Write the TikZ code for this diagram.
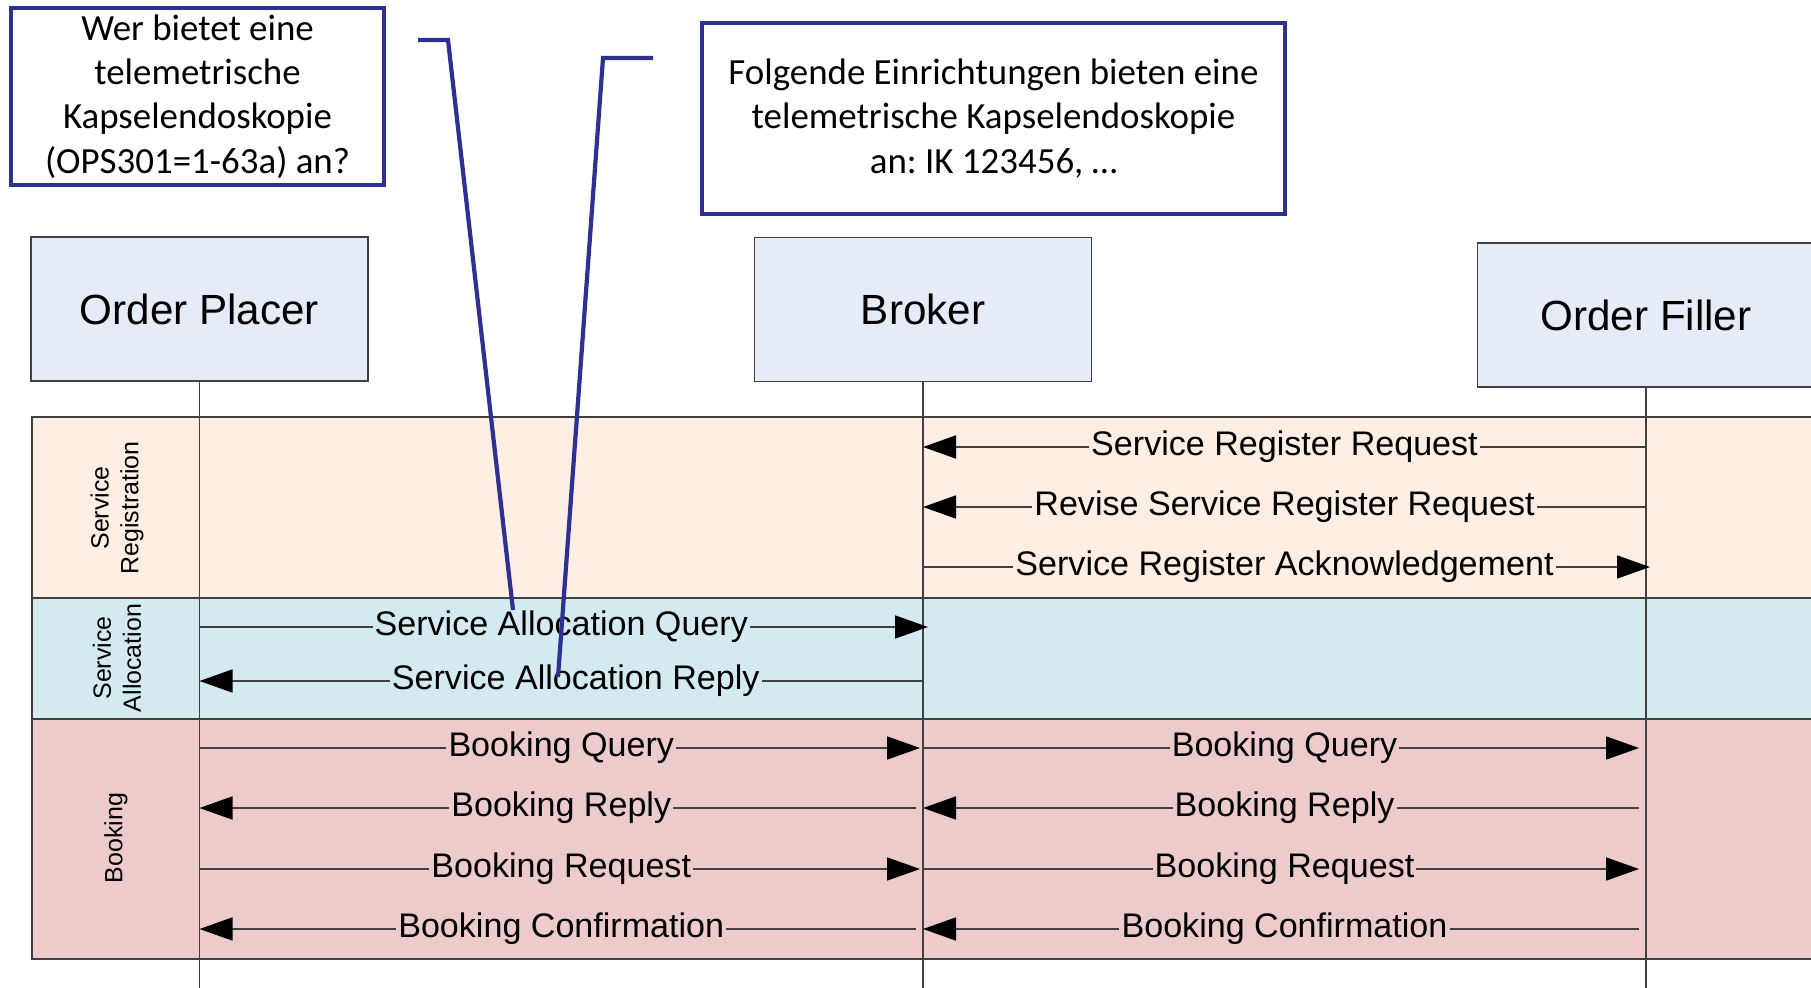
\documentclass[tikz,border=0pt]{standalone}
\usepackage{fontspec}
\setmainfont{Liberation Sans}
\newfontfamily\notefont{Carlito}
\usepackage{xcolor}
\usepackage{tikz}
\usetikzlibrary{arrows.meta,positioning,calc}
\frenchspacing
\definecolor{headfill}{HTML}{E6ECF7}
\definecolor{regfill}{HTML}{FDEEE3}
\definecolor{allocfill}{HTML}{D3EBF0}
\definecolor{bookfill}{HTML}{EDCBCB}
\definecolor{noteblue}{HTML}{2E3192}
\definecolor{linegray}{HTML}{404040}
\tikzset{
  lifebox/.style={draw=linegray, fill=headfill, minimum width=3.37cm, minimum height=1.44cm, inner sep=0pt, font=\fontsize{12}{14}\selectfont},
  notebox/.style={draw=noteblue, line width=1.2pt, align=center, inner sep=0pt, font=\notefont\fontsize{10.5}{12.6}\selectfont},
  bandbox/.style={draw=linegray, line width=0.6pt},
  bandlbl/.style={rotate=90, align=center, inner sep=0pt, font=\fontsize{7.1}{8.5}\selectfont},
  lifeline/.style={draw=linegray, line width=0.5pt},
  umlmsg/.style={-{Triangle[length=3.3mm,width=2.3mm,color=black]}, draw=linegray, line width=0.5pt},
  msglbl/.style={inner sep=0.6pt, text=black, font=\fontsize{9.7}{11}\selectfont},
  callout/.style={draw=noteblue, line width=1.2pt}
}
\begin{document}
\begin{tikzpicture}
\useasboundingbox (0,0) rectangle (18.11,-9.88);
\clip (0,0) rectangle (18.11,-9.88);
% swimlanes
\filldraw[bandbox, fill=regfill] (0.32,-4.17) rectangle (18.4,-5.98);
\filldraw[bandbox, fill=allocfill] (0.32,-5.98) rectangle (18.4,-7.19);
\filldraw[bandbox, fill=bookfill] (0.32,-7.19) rectangle (18.4,-9.59);
\node[bandlbl] (lblreg) at (1.17,-5.08) {Service\\Registration};
\node[bandlbl] (lblalloc) at (1.17,-6.58) {Service\\Allocation};
\node[bandlbl] (lblbook) at (1.16,-8.38) {Booking};
% participants
\node[lifebox] (placer) at (1.995,-3.09) {Order Placer};
\node[lifebox] (broker) at (9.23,-3.095) {Broker};
\node[lifebox] (filler) at (16.46,-3.15) {Order Filler};
\foreach \p in {placer,broker,filler} {
  \draw[lifeline] (\p.south) -- (\p.south |- 0,-9.88);
}
\foreach \r/\y in {r1/4.47,r2/5.07,r3/5.67,r4/6.27,r5/6.81,r6/7.48,r7/8.08,r8/8.69,r9/9.29} {
  \coordinate (\r) at (0,-\y);
}
% service registration
\draw[umlmsg] (filler |- r1) -- node[msglbl, fill=regfill] {Service Register Request} (broker |- r1);
\draw[umlmsg] (filler |- r2) -- node[msglbl, fill=regfill] {Revise Service Register Request} (broker |- r2);
\draw[umlmsg, shorten >=-0.04cm] (broker |- r3) -- node[msglbl, fill=regfill] {Service Register Acknowledgement} (filler |- r3);
% service allocation
\draw[umlmsg, shorten >=-0.05cm] (placer |- r4) -- node[msglbl, fill=allocfill] {Service Allocation Query} (broker |- r4);
\draw[umlmsg] (broker |- r5) -- node[msglbl, fill=allocfill, pos=0.48] {Service Allocation Reply} (placer |- r5);
% booking
\draw[umlmsg, shorten >=0.03cm] (placer |- r6) -- node[msglbl, fill=bookfill] {Booking Query} (broker |- r6);
\draw[umlmsg, shorten >=0.07cm] (broker |- r6) -- node[msglbl, fill=bookfill] {Booking Query} (filler |- r6);
\draw[umlmsg, shorten <=0.07cm] (broker |- r7) -- node[msglbl, fill=bookfill] {Booking Reply} (placer |- r7);
\draw[umlmsg, shorten <=0.07cm] (filler |- r7) -- node[msglbl, fill=bookfill] {Booking Reply} (broker |- r7);
\draw[umlmsg, shorten >=0.03cm] (placer |- r8) -- node[msglbl, fill=bookfill] {Booking Request} (broker |- r8);
\draw[umlmsg, shorten >=0.07cm] (broker |- r8) -- node[msglbl, fill=bookfill] {Booking Request} (filler |- r8);
\draw[umlmsg, shorten <=0.07cm] (broker |- r9) -- node[msglbl, fill=bookfill] {Booking Confirmation} (placer |- r9);
\draw[umlmsg, shorten <=0.07cm] (filler |- r9) -- node[msglbl, fill=bookfill] {Booking Confirmation} (broker |- r9);
% notes
\node[notebox, minimum width=3.73cm, minimum height=1.77cm] (ask) at (1.975,-0.965) {Wer bietet eine\\telemetrische\\Kapselendoskopie\\(OPS301=1-63a) an?};
\node[notebox, minimum width=5.83cm, minimum height=1.91cm] (answer) at (9.935,-1.185) {Folgende Einrichtungen bieten eine\\telemetrische Kapselendoskopie\\an: IK 123456, …};
\coordinate (askfrom) at (4.18,-0.40);
\coordinate (askbend) at (4.48,-0.40);
\coordinate (askto) at (5.13,-6.10);
\coordinate (ansfrom) at (6.53,-0.58);
\coordinate (ansbend) at (6.03,-0.58);
\coordinate (ansto) at (5.58,-6.77);
\draw[callout] (askfrom) -- (askbend) -- (askto);
\draw[callout] (ansfrom) -- (ansbend) -- (ansto);
\end{tikzpicture}
\end{document}
